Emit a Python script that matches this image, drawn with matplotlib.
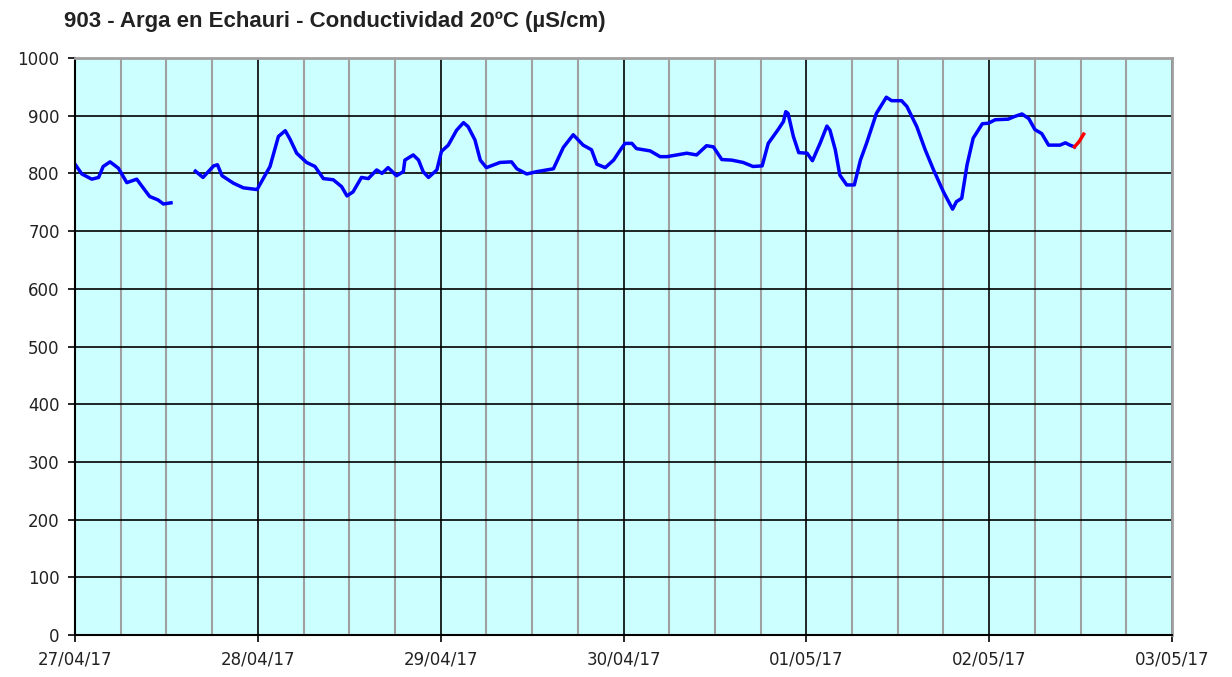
import matplotlib
matplotlib.use("Agg")
import matplotlib.pyplot as plt
import numpy as np

# hours since 27/04/17 00:00, conductivity (uS/cm)
hours_a = [0, 0.9, 2.2, 3.1, 3.7, 4.6, 5.7, 6.8, 8.1, 9.0, 9.8, 10.9, 11.6, 12.6]
cond_a = [816, 799, 790, 793, 812, 820, 809, 784, 790, 774, 760, 754, 747, 749]

hours_b = [15.8, 16.8, 18.2, 18.7, 19.3, 20.8, 22.1, 23.9, 25.6, 26.7, 27.6, 28.2,
           29.1, 30.4, 31.5, 32.6, 33.9, 35.0, 35.7, 36.5, 37.6, 38.5, 39.6, 40.3,
           41.1, 42.2, 43.1, 43.3, 44.4, 45.1, 45.7, 46.4, 47.5, 48.1, 49.0, 50.1,
           51.0, 51.6, 52.5, 53.2, 54.0, 55.8, 57.3, 58.0, 59.3, 60.6, 62.8, 64.1,
           65.4, 66.7, 67.8, 68.5, 69.6, 70.7, 71.6, 72.2, 73.1, 73.7, 75.5, 76.8,
           77.7, 80.3, 81.6, 82.9, 83.8, 84.9, 86.2, 87.7, 89.0, 90.2, 91.0, 92.3,
           93.0, 93.3, 93.6, 94.3, 95.0, 96.1, 96.8, 97.8, 98.7, 99.1, 99.8, 100.4,
           101.3, 102.3, 103.1, 103.9, 105.2, 106.5, 107.2, 108.5, 109.2, 110.5,
           111.6, 112.7, 114.0, 115.2, 115.7, 116.4, 117.1, 117.9, 119.1, 119.9,
           120.8, 122.5, 123.2, 124.3, 125.2, 126.0, 126.9, 127.8, 129.3, 130.0,
           130.6, 131.2]
cond_b = [804, 793, 813, 815, 796, 783, 775, 772, 812, 864, 874, 860,
          835, 819, 812, 791, 789, 777, 761, 768, 793, 791, 806, 800,
          810, 796, 803, 823, 832, 823, 803, 793, 806, 838, 849, 875,
          888, 881, 858, 823, 810, 819, 820, 808, 799, 803, 808, 845,
          867, 849, 841, 816, 810, 823, 841, 852, 852, 843, 839, 829,
          829, 835, 832, 848, 846, 824, 823, 819, 812, 813, 852, 876,
          890, 907, 904, 864, 836, 835, 822, 852, 882, 875, 841, 797,
          780, 780, 823, 852, 904, 932, 926, 926, 916, 881,
          841, 806, 768, 738, 751, 757, 815, 861, 886, 887,
          893, 894, 898, 903, 895, 876, 869, 849, 849, 853,
          849, 846]

# last values (provisional, red)
hours_c = [131.2, 131.8, 132.4]
cond_c = [846, 855, 868]

day_labels = ["27/04/17", "28/04/17", "29/04/17", "30/04/17",
              "01/05/17", "02/05/17", "03/05/17"]
y_ticks = list(range(0, 1001, 100))

fig = plt.figure(figsize=(12.32, 6.77), dpi=100)
ax = fig.add_axes([75 / 1232, 1 - 635 / 677, 1097 / 1232, 577 / 677])
ax.set_facecolor("#ccffff")

ax.set_xlim(0, 144)
ax.set_ylim(0, 1000)

ax.set_xticks(np.arange(0, 145, 24))
ax.set_xticklabels(day_labels)
ax.set_xticks(np.arange(0, 145, 6), minor=True)
ax.set_yticks(y_ticks)

ax.grid(which="minor", axis="x", color="#a0a0a0", lw=1.5)
ax.grid(which="major", color="black", lw=1.2)
ax.set_axisbelow(True)
ax.tick_params(axis="x", which="minor", length=0)
ax.tick_params(which="major", length=5, width=1.2, direction="out",
               labelsize=12, colors="black", pad=6)
for lab in ax.get_xticklabels() + ax.get_yticklabels():
    lab.set_color("#222222")

for side in ["left", "bottom"]:
    ax.spines[side].set_color("black")
    ax.spines[side].set_linewidth(1.5)
for side in ["top", "right"]:
    ax.spines[side].set_color("#a0a0a0")
    ax.spines[side].set_linewidth(2)

ax.plot(hours_a, cond_a, color="#0000ff", lw=2.5)
ax.plot(hours_b, cond_b, color="#0000ff", lw=2.5)
ax.plot(hours_c, cond_c, color="#ff0000", lw=2.5)

fig.text(64 / 1232, 1 - 22 / 677, "903 - Arga en Echauri - Conductividad 20ºC (µS/cm)",
         fontsize=16, fontweight="bold", family="Liberation Sans",
         color="#222222", va="center", ha="left")

fig.savefig("out.png", dpi=100)
